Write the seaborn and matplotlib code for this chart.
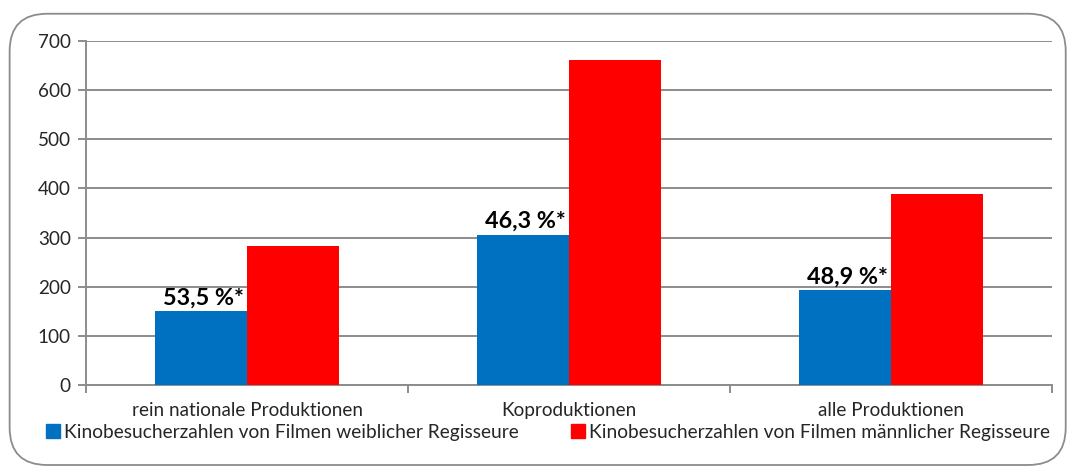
import pandas as pd
import matplotlib.pyplot as plt
import seaborn as sns
from matplotlib.patches import FancyBboxPatch
from matplotlib.lines import Line2D

# Chart data
categories = ["rein nationale Produktionen", "Koproduktionen", "alle Produktionen"]
female = [150, 306, 193]
male = [283, 661, 388]
shares = ["53,5 %*", "46,3 %*", "48,9 %*"]
series_f = "Kinobesucherzahlen von Filmen weiblicher Regisseure"
series_m = "Kinobesucherzahlen von Filmen männlicher Regisseure"

df = pd.DataFrame({
    "Kategorie": categories * 2,
    "Wert": female + male,
    "Serie": [series_f] * 3 + [series_m] * 3,
})

sns.set_style("white")
plt.rcParams["font.family"] = ["Lato", "DejaVu Sans"]

fig = plt.figure(figsize=(10.7, 4.74), dpi=100)
ax = fig.add_axes([0.0804, 0.1878, 0.9028, 0.7257])

# rounded outer border
border = FancyBboxPatch((0.009, 0.019), 0.987, 0.952, boxstyle="round,pad=0,rounding_size=0.035",
                        transform=fig.transFigure, fill=False, edgecolor="#8c8c8c", linewidth=1.3,
                        mutation_aspect=1070 / 474)
fig.patches.append(border)

sns.barplot(data=df, x="Kategorie", y="Wert", hue="Serie",
            palette=["#0070C0", "#FF0000"], width=0.572, saturation=1,
            legend=False, ax=ax, zorder=3, linewidth=0)

ax.set_ylim(0, 700)
ax.set_xlim(-0.5, 2.5)
ax.set_yticks(range(0, 701, 100))
ax.yaxis.grid(True, color="#8c8c8c", linewidth=1.4, zorder=0)
ax.set_xlabel("")
ax.set_ylabel("")
for s in ["top", "right"]:
    ax.spines[s].set_visible(False)
for s in ["left", "bottom"]:
    ax.spines[s].set_color("#8c8c8c")
    ax.spines[s].set_linewidth(1.4)

ax.tick_params(axis="y", left=True, length=6, width=1.4, color="#8c8c8c", labelsize=13.6, pad=5)
ax.tick_params(axis="x", bottom=False, labelsize=13.6, pad=9)
ax.set_xticks([-0.5, 0.5, 1.5, 2.5], minor=True)
ax.tick_params(axis="x", which="minor", bottom=True, length=6, width=1.4, color="#8c8c8c")

# share labels above the female bars
for bar, txt in zip(ax.patches[:3], shares):
    ax.annotate(txt, (bar.get_x() + bar.get_width() / 2, bar.get_height()),
                xytext=(2, 2), textcoords="offset points", ha="center", va="bottom",
                fontsize=16.8, fontweight="bold", color="black", zorder=5)

handles = [Line2D([], [], marker="s", linestyle="", markersize=9.5, color=c) for c in ["#0070C0", "#FF0000"]]
fig.legend(handles, [series_f, series_m], loc="center", bbox_to_anchor=(0.511, 0.088), ncol=2,
           frameon=False, fontsize=13.8, handletextpad=0.05, columnspacing=2.6, handlelength=1)

fig.savefig("out.png", dpi=100)
